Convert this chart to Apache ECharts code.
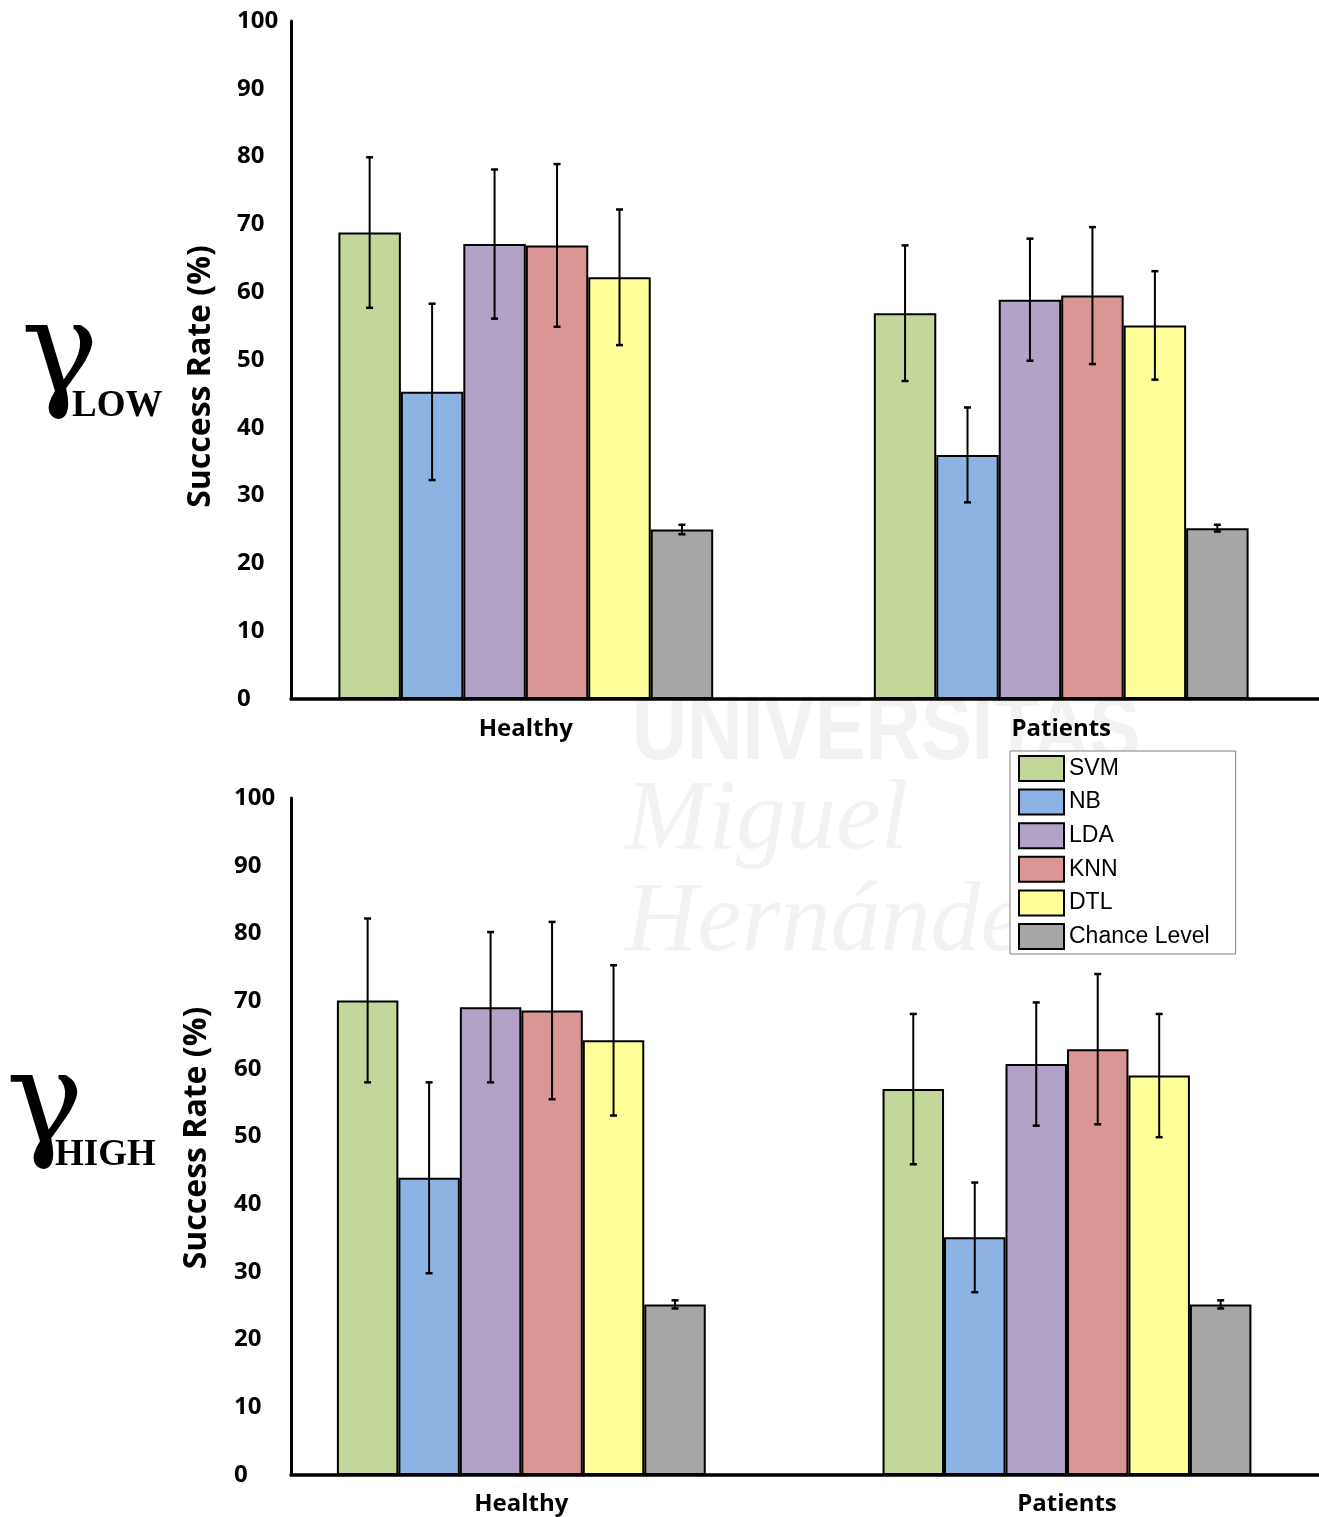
<!DOCTYPE html>
<html>
<head>
<meta charset="utf-8">
<title>Success rate by classifier</title>
<script src="https://cdn.jsdelivr.net/npm/echarts@6/dist/echarts.min.js"></script>
<style>
  html, body { margin: 0; padding: 0; background: #ffffff; }
  #chart { width: 1319px; height: 1517px; }
</style>
</head>
<body>
<div id="chart"></div>
<script>
// Groups on the x axis and classifiers drawn in each group
const categories = ['Healthy', 'Patients'];
const methods = ['SVM', 'NB', 'LDA', 'KNN', 'DTL', 'Chance Level'];

// γ LOW band: mean success rate (%) and its error, one entry per classifier
const lowHealthy     = [68.8, 45.3, 67.1, 66.9, 62.2, 25.0];
const lowHealthyErr  = [11.1, 13.0, 11.0, 12.0, 10.0, 0.7];
const lowPatients    = [56.9, 36.0, 58.9, 59.5, 55.1, 25.2];
const lowPatientsErr = [10.0, 7.0, 9.0, 10.1, 8.0, 0.5];

// γ HIGH band
const highHealthy     = [70.1, 43.9, 69.1, 68.6, 64.2, 25.2];
const highHealthyErr  = [12.1, 14.1, 11.1, 13.1, 11.1, 0.6];
const highPatients    = [57.0, 35.1, 60.7, 62.9, 59.0, 25.2];
const highPatientsErr = [11.1, 8.1, 9.1, 11.1, 9.1, 0.6];

// Success-rate axis range
const yMin = 0, yMax = 100, yStep = 10;

const colors = ['#c4d79b', '#8db3e2', '#b3a2c7', '#d99694', '#ffff99', '#a6a6a6'];

const LABEL_FONT = '"Open Sans", "Liberation Sans", sans-serif';

// Layout of the two stacked panels
const panels = [
  {
    values: [lowHealthy, lowPatients], errors: [lowHealthyErr, lowPatientsErr],
    top: 21, height: 678, barLeft: 258.1, barWidth: 1070.8, gap: 0.30,
    labelMargin: 54, catMargin: 18, band: 'LOW', gammaX: 21, gammaY: 358, subX: 72, subY: 406,
    nameX: 200.5, nameY: 376.5
  },
  {
    values: [highHealthy, highPatients], errors: [highHealthyErr, highPatientsErr],
    top: 798, height: 677, barLeft: 248.5, barWidth: 1091.3, gap: 0.324,
    labelMargin: 57, catMargin: 17, band: 'HIGH', gammaX: 6, gammaY: 1108, subX: 55, subY: 1155,
    nameX: 196.5, nameY: 1138
  }
];

const grid = [], xAxis = [], yAxis = [], series = [];

panels.forEach((p, pi) => {
  const barGrid = pi * 2, frameGrid = pi * 2 + 1;

  // grid holding the bars (wider, so the two groups sit where they belong)
  grid.push({ left: p.barLeft, width: p.barWidth, top: p.top, height: p.height, outerBoundsMode: 'none', containLabel: false });
  // grid holding the visible axis lines and tick labels
  grid.push({ left: 291, width: 1028, top: p.top, height: p.height, outerBoundsMode: 'none', containLabel: false });

  xAxis.push({
    type: 'category', gridIndex: barGrid, data: categories,
    axisLine: { show: false }, axisTick: { show: false },
    axisLabel: { margin: p.catMargin, color: '#000', fontFamily: LABEL_FONT, fontWeight: 'bold', fontSize: 24 }
  });
  xAxis.push({
    type: 'value', gridIndex: frameGrid, min: 0, max: 1, z: 5,
    axisLine: { show: true, lineStyle: { color: '#000', width: 3.5 } },
    axisTick: { show: false }, axisLabel: { show: false }, splitLine: { show: false }
  });

  yAxis.push({ type: 'value', gridIndex: barGrid, min: yMin, max: yMax, interval: yStep, show: false });
  yAxis.push({
    type: 'value', gridIndex: frameGrid, min: yMin, max: yMax, interval: yStep, z: 5,
    axisLine: { show: true, lineStyle: { color: '#000', width: 3 } },
    axisTick: { show: false }, splitLine: { show: false },
    axisLabel: {
      margin: p.labelMargin, align: 'left', color: '#000',
      fontFamily: LABEL_FONT, fontWeight: 'bold', fontSize: 24
    }
  });

  methods.forEach((m, k) => {
    series.push({
      type: 'bar', name: m, xAxisIndex: barGrid, yAxisIndex: barGrid,
      data: categories.map((c, ci) => p.values[ci][k]),
      barGap: '0%', barCategoryGap: (p.gap * 100) + '%',
      itemStyle: { color: colors[k], borderColor: '#000', borderWidth: 2 },
      emphasis: { disabled: true }, silent: true
    });
  });

  // error bars: centred on each bar, computed from the axis band width
  const errData = [];
  categories.forEach((c, ci) => {
    methods.forEach((m, k) => errData.push([ci, k, p.values[ci][k], p.errors[ci][k]]));
  });
  const gap = p.gap;
  series.push({
    type: 'custom', name: 'error-' + p.band, xAxisIndex: barGrid, yAxisIndex: barGrid,
    z: 10, silent: true, data: errData,
    encode: { x: 0, y: 2 },
    renderItem: function (params, api) {
      const ci = api.value(0), k = api.value(1), mean = api.value(2), err = api.value(3);
      const band = api.size([1, 0])[0];
      const bw = band * (1 - gap) / methods.length;
      const cx = api.coord([ci, mean])[0] + (k - (methods.length - 1) / 2) * bw;
      const yT = api.coord([ci, mean + err])[1];
      const yB = api.coord([ci, mean - err])[1];
      const hw = 3.5;
      return {
        type: 'group',
        children: [
          { type: 'line', shape: { x1: cx, y1: yT, x2: cx, y2: yB }, style: { stroke: '#000', lineWidth: 2 } },
          { type: 'line', shape: { x1: cx - hw, y1: yT, x2: cx + hw, y2: yT }, style: { stroke: '#000', lineWidth: 2.5 } },
          { type: 'line', shape: { x1: cx - hw, y1: yB, x2: cx + hw, y2: yB }, style: { stroke: '#000', lineWidth: 2.5 } }
        ]
      };
    }
  });
});

// Panel captions (γ band names), axis titles and the faint watermark
const graphic = [
  { type: 'text', x: 632, y: 733.5, scaleX: 0.84, z: -1, silent: true,
    style: { text: 'UNIVERSITAS', font: 'bold 91px "Liberation Sans"', fill: '#f2f2f2', verticalAlign: 'middle' } },
  { type: 'text', x: 625, y: 822, z: -1, silent: true,
    style: { text: 'Miguel', font: 'italic 100px "Liberation Serif"', fill: '#f2f2f2', verticalAlign: 'middle' } },
  { type: 'text', x: 625, y: 924, z: -1, silent: true,
    style: { text: 'Hernández', font: 'italic 100px "Liberation Serif"', fill: '#f2f2f2', verticalAlign: 'middle' } }
];
panels.forEach(p => {
  graphic.push(
    { type: 'text', x: p.gammaX, y: p.gammaY,
      style: { text: 'γ', font: '130px "DejaVu Serif"', fill: '#000', align: 'left', verticalAlign: 'middle' } },
    { type: 'text', x: p.subX, y: p.subY,
      style: { text: p.band, font: 'bold 37px "Liberation Serif"', fill: '#000', align: 'left', verticalAlign: 'middle' } },
    { type: 'text', x: p.nameX, y: p.nameY, rotation: Math.PI / 2,
      style: { text: 'Success Rate (%)', font: 'bold 32px ' + LABEL_FONT, fill: '#000', align: 'center', verticalAlign: 'middle' } }
  );
});

const chart = echarts.init(document.getElementById('chart'), null, { renderer: 'canvas' });
chart.setOption({
  animation: false,
  backgroundColor: '#ffffff',
  grid: grid,
  xAxis: xAxis,
  yAxis: yAxis,
  legend: {
    data: methods, orient: 'vertical', left: 1010, top: 751,
    itemWidth: 45, itemHeight: 25, itemGap: 6.6, icon: 'rect',
    padding: [4, 26, 4, 8],
    backgroundColor: '#ffffff', borderColor: '#808080', borderWidth: 1, borderRadius: 0,
    selectedMode: false,
    itemStyle: { borderColor: '#000', borderWidth: 2 },
    textStyle: { color: '#000', fontFamily: '"Liberation Sans", Arial, sans-serif', fontSize: 23 }
  },
  graphic: graphic,
  series: series
});
</script>
</body>
</html>
